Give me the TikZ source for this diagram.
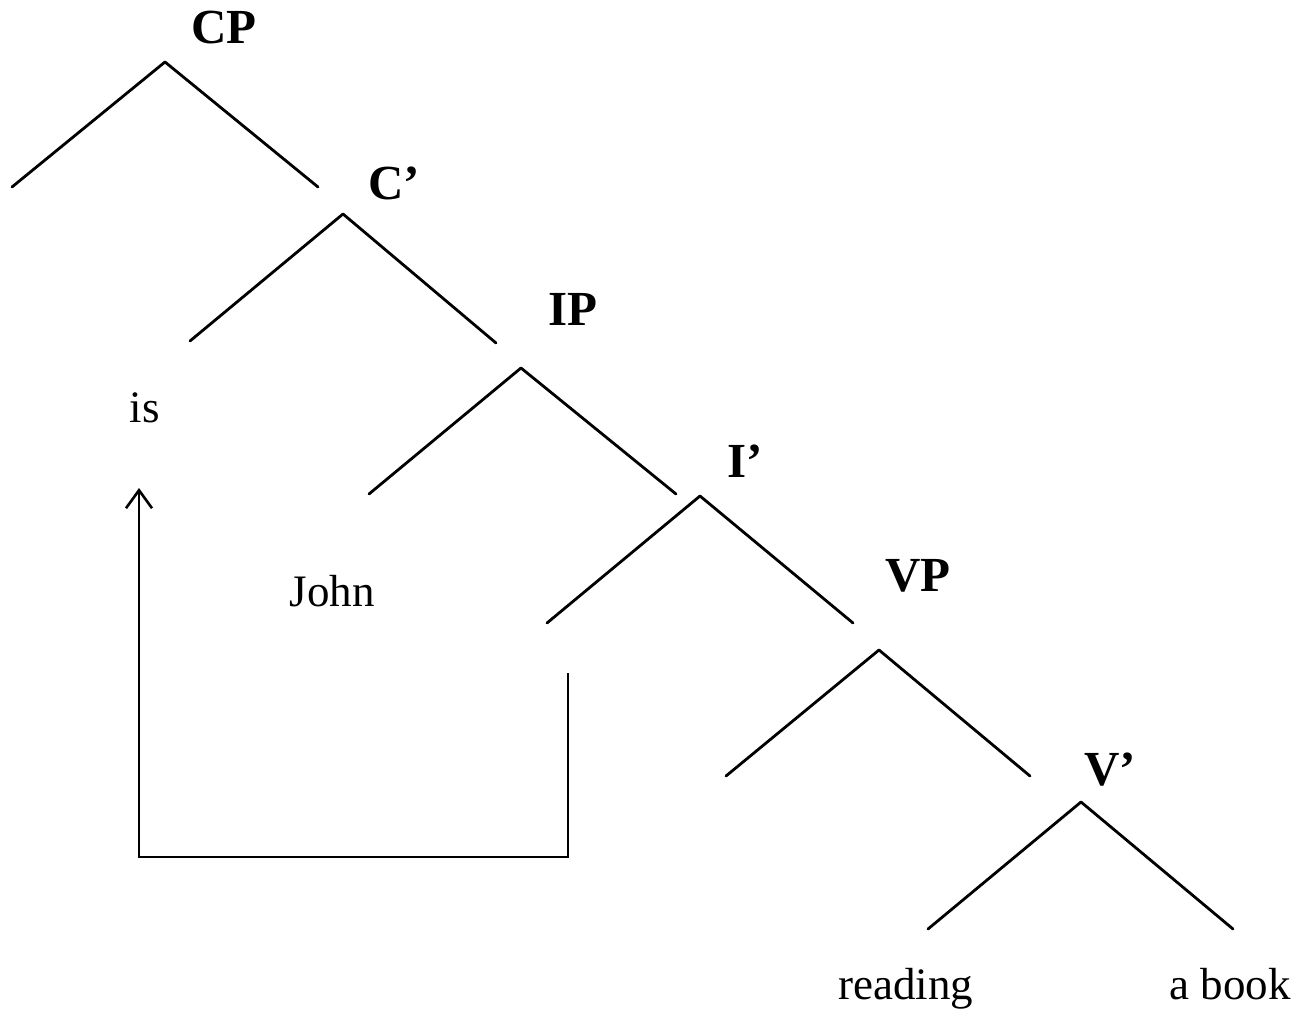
\documentclass[tikz,border=0pt]{standalone}
\usepackage{fontspec}
\setmainfont{Liberation Serif}
\usetikzlibrary{arrows.meta}
\begin{document}
\begin{tikzpicture}[x=1pt,y=-1pt,
  branch/.style={line width=2.8pt,line cap=round,line join=round},
  cat/.style={anchor=base,inner sep=0pt,font=\fontsize{49}{56}\selectfont\bfseries},
  word/.style={anchor=base,inner sep=0pt,font=\fontsize{45}{52}\selectfont},
  move/.style={line width=2.8pt,line join=miter,-{Straight Barb[length=18pt,width=26pt,line width=2.6pt]}}]
\useasboundingbox (0,0) rectangle (1314,1016);
% coordinates of branch points and leaves
\coordinate (cpT) at (165,62);  \coordinate (cpL) at (12,187);  \coordinate (cpR) at (318,187);
\coordinate (cbT) at (343,214); \coordinate (cbL) at (190,341); \coordinate (cbR) at (496,343);
\coordinate (ipT) at (521,368); \coordinate (ipL) at (369,494); \coordinate (ipR) at (676,494);
\coordinate (ibT) at (700,496); \coordinate (ibL) at (547,623); \coordinate (ibR) at (853,623);
\coordinate (vpT) at (879,650); \coordinate (vpL) at (726,776); \coordinate (vpR) at (1030,776);
\coordinate (vbT) at (1081,802); \coordinate (vbL) at (928,929); \coordinate (vbR) at (1233,929);
% labels
\node[cat] (CP) at (224,44) {CP};
\node[cat] (Cb) at (394,200) {C’};
\node[cat] (IP) at (573,325) {IP};
\node[cat] (Ib) at (745,477) {I’};
\node[cat] (VP) at (918,591) {VP};
\node[cat] (Vb) at (1110,785) {V’};
\node[word] (is) at (145,422) {is};
\node[word] (john) at (332,606) {John};
\node[word] (reading) at (906,999) {reading};
\node[word] (book) at (1230,999) {a book};
% branches
\draw[branch] (cpL) -- (cpT) -- (cpR);
\draw[branch] (cbL) -- (cbT) -- (cbR);
\draw[branch] (ipL) -- (ipT) -- (ipR);
\draw[branch] (ibL) -- (ibT) -- (ibR);
\draw[branch] (vpL) -- (vpT) -- (vpR);
\draw[branch] (vbL) -- (vbT) -- (vbR);
% movement arrow
\coordinate (trace) at (568,673);
\coordinate (c1) at (568,857);
\coordinate (c2) at (139,857);
\coordinate (target) at (139,488);
\draw[move] (trace) -- (c1) -- (c2) -- (target);
\end{tikzpicture}
\end{document}
